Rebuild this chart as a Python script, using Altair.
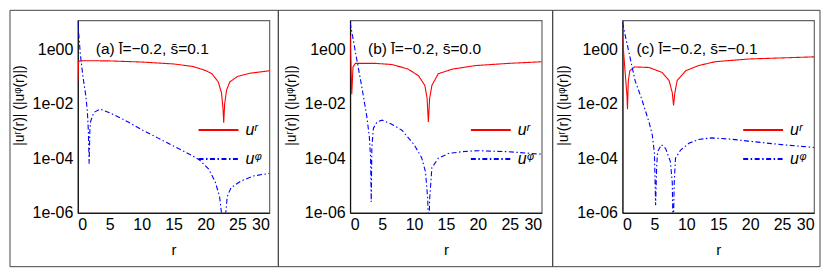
import altair as alt
import pandas as pd

# ---------------- data ----------------
LABELS = ["uʳ", "uᵠ"]
PANEL_TITLES = ["(a) l̄=−0.2, s̄=0.1", "(b) l̄=−0.2, s̄=0.0", "(c) l̄=−0.2, s̄=−0.1"]
X_TICKS = [0, 5, 10, 15, 20, 25, 30]
Y_TICKS = [1e-6, 1e-4, 1e-2, 1]

# panel (a)
A_R_UR = [0, 0.12, 1, 5, 10, 15, 18, 20, 21, 22, 22.5, 22.75, 22.85, 23.0, 23.3, 23.8, 25, 27, 30]
A_UR = [0.063, 0.363, 0.380, 0.372, 0.339, 0.288, 0.234, 0.166, 0.126, 0.063, 0.0251, 0.0063,
        0.0020, 0.010, 0.0316, 0.063, 0.10, 0.132, 0.162]
A_R_UP = [0, 0.4, 0.8, 1.25, 1.5, 1.65, 1.77, 1.88, 2.0, 2.5, 3.5, 5, 7.5, 10, 12.5, 15, 17.5, 19,
          20.5, 21.5, 22.2, 22.6, 22.85, 23.1, 23.4, 24, 25.5, 27.5, 30]
A_UP = [10, 0.631, 0.10, 0.020, 0.0050, 0.0010, 6.3e-5, 0.0010, 0.00224, 0.00479, 0.00631, 0.00468,
        0.0024, 0.00112, 5.6e-4, 2.8e-4, 1.41e-4, 8.9e-5, 4.0e-5, 1.41e-5, 4.0e-6, 6.3e-7, 1e-7,
        6.3e-7, 4.0e-6, 8.3e-6, 1.45e-5, 2.24e-5, 2.8e-5]

# panel (b)
B_R_UR = [0, 0.25, 0.45, 0.8, 4, 6.5, 9, 10.7, 11.7, 12.05, 12.25, 12.45, 12.8, 13.8, 16, 19.6, 24.8, 30]
B_UR = [3.16, 0.0224, 0.224, 0.302, 0.302, 0.275, 0.191, 0.107, 0.0468, 0.0158, 0.00214, 0.0158,
        0.0468, 0.126, 0.186, 0.251, 0.302, 0.347]
B_R_UP = [0, 1, 1.83, 2.6, 3.0, 3.2, 3.3, 3.4, 3.64, 4.2, 5, 6.5, 8.1, 10, 11.2, 11.8, 12.15, 12.3,
          12.45, 12.8, 13.8, 15.4, 17.5, 20, 24.8, 30]
B_UP = [9.3, 0.47, 0.041, 0.0035, 6.3e-4, 1.0e-4, 2.5e-6, 2.5e-4, 1.26e-3, 2.14e-3, 2.5e-3, 1.78e-3,
        1.07e-3, 3.2e-4, 1.05e-4, 3.2e-5, 3.2e-6, 1e-7, 3.2e-6, 4.5e-5, 1.0e-4, 1.5e-4, 1.74e-4,
        1.9e-4, 1.74e-4, 1.41e-4]

# panel (c)
C_R_UR = [0, 0.4, 0.7, 0.78, 0.9, 1.14, 1.9, 4.15, 6.2, 7.3, 7.8, 8.0, 8.2, 8.56, 9.9, 11.9, 14.5,
          19.7, 24.9, 30]
C_UR = [2.7, 0.158, 0.020, 0.0063, 0.063, 0.162, 0.224, 0.214, 0.141, 0.0708, 0.0251, 0.0087,
        0.0251, 0.0708, 0.162, 0.251, 0.347, 0.437, 0.479, 0.525]
C_R_UP = [0, 1.97, 3.0, 4.15, 4.67, 5.0, 5.19, 5.35, 5.5, 6.1, 6.75, 7.5, 7.8, 7.94, 8.1, 8.3, 9.1,
          10.4, 11.9, 14, 17.1, 19.7, 24.9, 30]
C_UP = [9.3, 0.0708, 0.0151, 0.00214, 7.1e-4, 1.58e-4, 1.9e-6, 5.0e-5, 1.74e-4, 3.16e-4, 2.29e-4,
        7.6e-5, 1.26e-5, 1e-7, 1.26e-5, 1e-4, 2.0e-4, 3.55e-4, 4.9e-4, 5.6e-4, 5.0e-4, 4.27e-4,
        3.16e-4, 2.5e-4]

PANELS = [
    (A_R_UR, A_UR, A_R_UP, A_UP),
    (B_R_UR, B_UR, B_R_UP, B_UP),
    (C_R_UR, C_UR, C_R_UP, C_UP),
]

FONT = "Liberation Sans"
W, H = 192, 193
# outer boxes of each panel (pixels relative to the plot area)
BOXES = [(-68, 201), (-72, 203), (-70, 198)]
TITLE_DX = [18, 18, 14]


def make_df(r1, u1, r2, u2):
    d1 = pd.DataFrame({"r": r1, "u": u1, "comp": LABELS[0]})
    d2 = pd.DataFrame({"r": r2, "u": u2, "comp": LABELS[1]})
    return pd.concat([d1, d2], ignore_index=True)


legend = alt.Legend(
    orient="none", legendX=120, legendY=100, title=None,
    symbolType="stroke", symbolSize=1600, symbolStrokeWidth=2,
    labelFontSize=16, labelFontStyle="italic", labelFont=FONT, labelOffset=6,
    clipHeight=20, rowPadding=9, padding=0,
)

label_expr = ("datum.value >= 0.5 ? '1e00' : datum.value >= 0.005 ? '1e-02' : "
              "datum.value >= 0.00005 ? '1e-04' : '1e-06'")


def panel(i):
    r1, u1, r2, u2 = PANELS[i]
    df = make_df(r1, u1, r2, u2)
    lines = alt.Chart(df).mark_line(clip=True, strokeWidth=1.1).encode(
        x=alt.X("r:Q", scale=alt.Scale(domain=[0, 30], nice=False, zero=False),
                axis=alt.Axis(values=X_TICKS, title="r", grid=False, ticks=False,
                              labelPadding=4, titlePadding=10, labelFontSize=16,
                              titleFontSize=15, titleFontWeight="normal")),
        y=alt.Y("u:Q", scale=alt.Scale(type="log", domain=[1e-6, 11.5], nice=False),
                axis=alt.Axis(values=Y_TICKS, labelExpr=label_expr, grid=False, ticks=False,
                              title="|uʳ(r)| (|uᵠ(r)|)", labelPadding=5, titlePadding=6,
                              labelFontSize=16, titleFontSize=14, titleFontWeight="normal",
                              titleY=85)),
        color=alt.Color("comp:N", scale=alt.Scale(domain=LABELS, range=["#ff0000", "#0000ff"]),
                        legend=legend),
        strokeDash=alt.StrokeDash("comp:N",
                                  scale=alt.Scale(domain=LABELS, range=[[1, 0], [5, 2.5, 1.5, 2.5]]),
                                  legend=legend),
    )
    one = pd.DataFrame({"k": [0]})
    x1, x2 = BOXES[i]
    box = alt.Chart(one).mark_rect(filled=False, stroke="#444", strokeWidth=1, clip=False).encode(
        x=alt.value(x1), x2=alt.value(x2), y=alt.value(-10), y2=alt.value(247)
    )
    title = alt.Chart(one).mark_text(align="left", baseline="middle", fontSize=15.5, font=FONT,
                                     color="black").encode(
        x=alt.value(TITLE_DX[i]), y=alt.value(29), text=alt.value(PANEL_TITLES[i])
    )
    return alt.layer(box, lines, title).properties(width=W, height=H)


chart = alt.hconcat(panel(0), panel(1), panel(2), spacing=81, bounds="flush").resolve_scale(
    color="independent", strokeDash="independent", x="independent", y="independent"
).resolve_legend(color="independent", strokeDash="independent").properties(
    padding={"left": 0, "top": 0, "right": 0, "bottom": 0}
).configure(font=FONT).configure_view(stroke="#666", strokeWidth=1.2).configure_axis(
    domainColor="black", labelColor="black", titleColor="black", labelFont=FONT, titleFont=FONT
)

chart.save("out.html", embed_options={"renderer": "svg", "actions": False})
